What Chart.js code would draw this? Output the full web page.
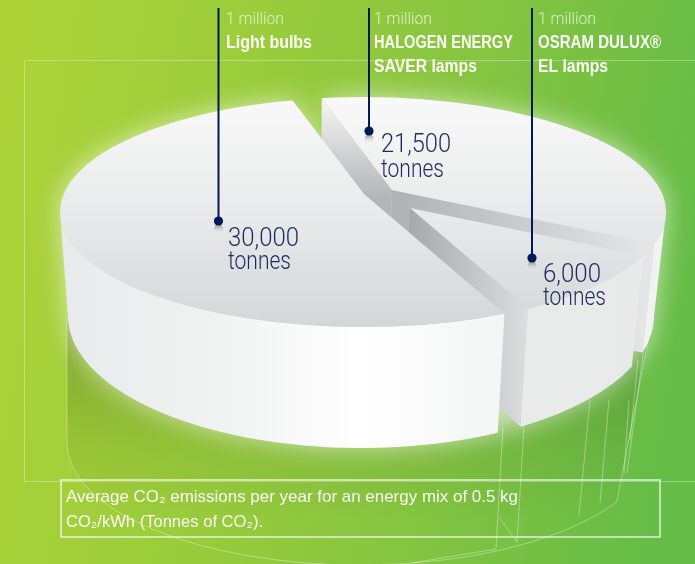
<!DOCTYPE html>
<html><head><meta charset="utf-8">
<style>html,body{margin:0;padding:0;background:#8fc73e}canvas{display:block}</style>
<script src="https://cdn.jsdelivr.net/npm/chart.js@4"></script>
</head><body><canvas id="c" width="695" height="564"></canvas>
<script>
// ---- data ----
const categories = ['Light bulbs', 'HALOGEN ENERGY SAVER lamps', 'OSRAM DULUX® EL lamps'];
const tonnes = [30000, 21500, 6000];
const quantity = ['1 million', '1 million', '1 million'];
const nameLines = [['Light bulbs'], ['HALOGEN ENERGY', 'SAVER lamps'], ['OSRAM DULUX®', 'EL lamps']];
const unit = 'tonnes';
const note = ['Average CO₂ emissions per year for an energy mix of 0.5 kg', 'CO₂/kWh (Tonnes of CO₂).'];

// ---- layout / style ----
const TOP = {x: 363, y: 212, rx: 303, ry: 115};
const BOT = {x: 361, y: 316, rx: 293, ry: 132};
const REFL = {x: 360, y: 443, rx: 293, ry: 122};
const DEPTH = 113;
const ROTATION = 156;
const TIP = [[364, 194], [392, 190], [410, 208]];   // exploded tip of each slice
const WALLS = [
  [],
  [{edge: 0, c0: '#f6f6f6', c1: '#b4b5b7', vertical: true}, {edge: 1, c0: '#b0b1b3', c1: '#e6e7e8'}],
  [{edge: 1, c0: '#a8a9ab', c1: '#dcddde'}]
];
const OUTER = [
  ['#e9eaeb', '#f0f1f1', '#ffffff', '#f3f4f4', '#eeeeef'],
  ['#f1f2f2', '#f1f2f2'],
  ['#ecedee', '#e8e9e9']
];
const LEAD = [
  {x: 218.5, y: 221, tx: 226, num: [228, 246], unit: 269, nw: 71, uw: 63},
  {x: 369, y: 131, tx: 374, num: [381, 152], unit: 177, nw: 70, uw: 63},
  {x: 532, y: 258, tx: 538, num: [543, 282], unit: 305, nw: 58, uw: 63}
];
const NAME_W = [[86], [139, 103], [123, 70]];
const NAVY = '#001a57', INK = '#1d2b5e';
const SANS = '"Liberation Sans", Arial, sans-serif';

function rimOf(tip, deg) {
  const a = deg * Math.PI / 180;
  const ux = (tip[0] - TOP.x) / TOP.rx, uy = (tip[1] - TOP.y) / TOP.ry;
  const dx = Math.sin(a), dy = -Math.cos(a);
  const b = ux * dx + uy * dy, c = ux * ux + uy * uy - 1;
  const t = -b + Math.sqrt(b * b - c);
  const nx = ux + t * dx, ny = uy + t * dy;
  const phi = Math.atan2(ny, nx);
  return {phi, x: TOP.x + nx * TOP.rx, y: TOP.y + ny * TOP.ry, bx: BOT.x + Math.cos(phi) * BOT.rx, by: BOT.y + Math.sin(phi) * BOT.ry};
}
function grad(ctx, x0, y0, x1, y1, stops) {
  const g = ctx.createLinearGradient(x0, y0, x1, y1);
  stops.forEach((c, i) => g.addColorStop(i / (stops.length - 1), c));
  return g;
}

const pie3d = {
  id: 'pie3d',
  beforeDraw(chart) {
    const ctx = chart.ctx, W = chart.width, H = chart.height;
    ctx.save();
    ctx.fillStyle = grad(ctx, 0, 180, W, 300, ['#acd238', '#9acc3b', '#84c441', '#65bc47']);
    ctx.fillRect(0, 0, W, H);
    ctx.strokeStyle = 'rgba(255,255,255,.32)'; ctx.lineWidth = 1;
    ctx.beginPath(); ctx.moveTo(W, 60.5); ctx.lineTo(24.5, 60.5); ctx.lineTo(24.5, 481.5); ctx.lineTo(W, 481.5); ctx.stroke();
    const reflPath = () => {
      ctx.beginPath(); ctx.moveTo(REFL.x - REFL.rx, 320);
      ctx.lineTo(REFL.x - REFL.rx, REFL.y);
      ctx.ellipse(REFL.x, REFL.y, REFL.rx, REFL.ry, 0, Math.PI, Math.PI * 0.16, true);
      ctx.lineTo(648, 340);
    };
    reflPath(); ctx.closePath();
    ctx.fillStyle = grad(ctx, 0, 350, 0, 520, ['rgba(60,90,20,.30)', 'rgba(60,90,20,.12)', 'rgba(60,90,20,0)']);
    ctx.fill();
    reflPath();
    ctx.strokeStyle = 'rgba(255,255,255,.5)'; ctx.lineWidth = .7; ctx.stroke();
    ctx.beginPath();
    [[[503,427],[496,549],[412,563]],[[524,425],[517,542],[499,517]],[[590,400],[579,515]],[[609,400],[600,503]],
     [[629,400],[624,473]],[[645,340],[627,473]],[[638,360],[630,440]]].forEach(l => {
      l.forEach((p, i) => i ? ctx.lineTo(p[0], p[1]) : ctx.moveTo(p[0], p[1]));
    });
    ctx.stroke();
    ctx.restore();
  },
  beforeDatasetDraw(chart) {
    const ctx = chart.ctx, arcs = chart.getDatasetMeta(0).data;
    const deg = r => (r + Math.PI / 2) * 180 / Math.PI;
    const K = 2.4;
    const rL = rimOf(TIP[0], deg(arcs[0].endAngle));
    const rH = rimOf(TIP[1], deg(arcs[1].startAngle));
    ctx.save();
    ctx.shadowColor = 'rgba(255,255,255,.62)'; ctx.shadowBlur = 26; ctx.shadowOffsetX = 2000; ctx.fillStyle = '#fff';
    ctx.translate(-2000, 0);
    ctx.beginPath();
    ctx.moveTo(rL.x, rL.y);
    ctx.ellipse(TOP.x, TOP.y, TOP.rx, TOP.ry, 0, rL.phi, Math.PI, true);
    ctx.lineTo(BOT.x - BOT.rx, BOT.y);
    ctx.ellipse(BOT.x, BOT.y, BOT.rx, BOT.ry, 0, Math.PI, 0, true);
    ctx.lineTo(TOP.x + TOP.rx, TOP.y);
    ctx.ellipse(TOP.x, TOP.y, TOP.rx, TOP.ry, 0, 0, rH.phi, true);
    ctx.lineTo(TIP[1][0], TIP[1][1]); ctx.lineTo(TIP[0][0], TIP[0][1]);
    ctx.closePath(); ctx.fill();
    ctx.restore();

    // painter's order: back slice to front slice
    [1, 2, 0].forEach(i => {
      const arc = arcs[i], tip = TIP[i];
      const edges = [rimOf(tip, deg(arc.startAngle)), rimOf(tip, deg(arc.endAngle))];
      WALLS[i].forEach(w => {
        const e = edges[w.edge];
        ctx.beginPath();
        ctx.moveTo(tip[0], tip[1]); ctx.lineTo(e.x, e.y); ctx.lineTo(e.bx, e.by); ctx.lineTo(tip[0] - 3, tip[1] + DEPTH); ctx.closePath();
        ctx.fillStyle = w.vertical ? grad(ctx, 0, e.y, 0, tip[1] + 8, [w.c0, w.c1]) : grad(ctx, tip[0], 0, e.x, 0, [w.c0, w.c1]);
        ctx.fill();
      });
      let a0 = edges[0].phi, a1 = edges[1].phi;
      if (i === 0) a1 = Math.PI;
      if (i === 1) a0 = 0;
      ctx.beginPath();
      ctx.ellipse(TOP.x, TOP.y, TOP.rx, TOP.ry, 0, a0, a1, false);
      ctx.ellipse(BOT.x, BOT.y, BOT.rx, BOT.ry, 0, a1, a0, true);
      ctx.closePath();
      ctx.fillStyle = grad(ctx, 60, 0, 660, 0, OUTER[i]);
      ctx.fill();
      // top face: the library's own arc, foreshortened and clipped to the disc
      ctx.save();
      ctx.beginPath(); ctx.ellipse(TOP.x, TOP.y, TOP.rx, TOP.ry, 0, 0, Math.PI * 2); ctx.clip();
      const R = arc.outerRadius, sx = TOP.rx * K / R, sy = TOP.ry * K / R;
      ctx.translate(tip[0], tip[1]); ctx.scale(sx, sy); ctx.translate(-arc.x, -arc.y);
      const toSrc = y => arc.y + (y - tip[1]) / sy;
      const g = ctx.createLinearGradient(arc.x, toSrc(97), arc.x, toSrc(330));
      g.addColorStop(0, '#f9f9f9'); g.addColorStop(.55, '#e7e8e9'); g.addColorStop(1, '#d4d5d7');
      const saved = arc.options, o = Object.create(saved);
      o.backgroundColor = g;
      arc.options = o; arc.draw(ctx, chart.chartArea); arc.options = saved;
      ctx.restore();
    });
    return false;
  },
  afterDraw(chart) {
    const ctx = chart.ctx;
    ctx.save();
    ctx.textBaseline = 'alphabetic';
    const fit = (s, x, y, font, color, w) => { ctx.font = font; ctx.fillStyle = color; ctx.fillText(s, x, y, w); };
    LEAD.forEach((l, i) => {
      const rg = ctx.createLinearGradient(0, l.y + 4, 0, l.y + 13);
      rg.addColorStop(0, 'rgba(120,120,125,.75)'); rg.addColorStop(1, 'rgba(255,255,255,0)');
      ctx.fillStyle = rg; ctx.beginPath(); ctx.arc(l.x, l.y + 8, 4.6, 0, Math.PI * 2); ctx.fill();
      ctx.strokeStyle = NAVY; ctx.lineWidth = 2;
      ctx.beginPath(); ctx.moveTo(l.x, 8); ctx.lineTo(l.x, l.y); ctx.stroke();
      ctx.fillStyle = NAVY; ctx.beginPath(); ctx.arc(l.x, l.y, 4.6, 0, Math.PI * 2); ctx.fill();
      fit(quantity[i], l.tx, 24, `300 17px Roboto, ${SANS}`, 'rgba(255,255,255,.72)', 58);
      nameLines[i].forEach((t, j) => fit(t, l.tx, 48 + j * 24, `bold 18px ${SANS}`, '#fbfdf5', NAME_W[i][j]));
      fit(tonnes[i].toLocaleString('en-US'), l.num[0], l.num[1], `300 26px Roboto, ${SANS}`, INK, l.nw);
      fit(unit, l.num[0], l.unit, `300 26px Roboto, ${SANS}`, INK, l.uw);
    });
    ctx.strokeStyle = 'rgba(255,255,255,.78)'; ctx.lineWidth = 1.5;
    ctx.strokeRect(61, 480, 599, 57);
    note.forEach((t, i) => fit(t, 66, 502 + i * 25, `17px ${SANS}`, 'rgba(255,255,255,.95)', i ? 197 : 452));
    ctx.restore();
  }
};

new Chart(document.getElementById('c'), {
  type: 'pie',
  data: {labels: categories, datasets: [{data: tonnes, backgroundColor: '#e7e8e9', borderWidth: 0, clip: false}]},
  options: {
    responsive: false, animation: false, events: [], rotation: ROTATION, devicePixelRatio: 1,
    plugins: {legend: {display: false}, tooltip: {enabled: false}}
  },
  plugins: [pie3d]
});
</script></body></html>
